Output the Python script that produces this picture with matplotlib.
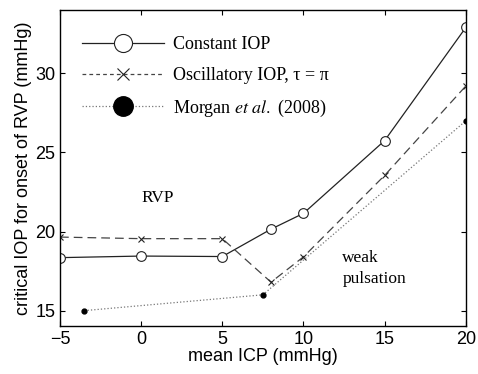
import numpy as np
import matplotlib
matplotlib.use("Agg")
import matplotlib.pyplot as plt
from matplotlib.lines import Line2D

# data
icp = [-5, 0, 5, 8, 10, 15, 20]
iop_const = [18.35, 18.45, 18.42, 20.15, 21.15, 25.75, 32.9]
iop_osc = [19.65, 19.55, 19.55, 16.8, 18.4, 23.55, 29.2]
morgan_icp = [-3.5, 7.5, 20]
morgan_iop = [15.0, 16.0, 27.0]

xticks = [-5, 0, 5, 10, 15, 20]
yticks = [15, 20, 25, 30]

serif = ["Liberation Serif", "DejaVu Serif"]
sans = ["Liberation Sans", "DejaVu Sans"]
plt.rcParams["font.family"] = sans
plt.rcParams["mathtext.fontset"] = "stix"

fig = plt.figure(figsize=(4.78, 3.74), dpi=100)
ax = fig.add_axes([0.1255, 0.128, 0.849, 0.845])

ax.plot(icp, iop_const, "-", color="#222222", lw=0.9, marker="o", ms=7,
        mfc="white", mec="#222222", mew=0.8)
ax.plot(icp, iop_osc, "--", color="#444444", lw=0.9, marker="x", ms=5,
        mec="#222222", mew=0.8, dashes=(7, 4))
ax.plot(morgan_icp, morgan_iop, ":", color="#777777", lw=0.9, marker="o",
        ms=3.5, mfc="black", mec="black")

ax.set_xlim(-5, 20)
ax.set_ylim(14.02, 34.0)
ax.set_xticks(xticks)
ax.set_yticks(yticks)
ax.set_xticklabels(["\u22125", "0", "5", "10", "15", "20"])
ax.tick_params(direction="in", top=True, right=True, length=3.8, width=0.8,
               labelsize=13)
for s in ax.spines.values():
    s.set_linewidth(1.0)
ax.set_xlabel("mean ICP (mmHg)", fontsize=13, labelpad=0)
ax.set_ylabel("critical IOP for onset of RVP (mmHg)", fontsize=13, labelpad=2)

ax.text(0.0, 22.1, "RVP", family=serif, fontsize=12.5, va="center")
ax.text(12.4, 18.3, "weak", family=serif, fontsize=12.5, va="center")
ax.text(12.4, 17.0, "pulsation", family=serif, fontsize=12.5, va="center")

handles = [
    Line2D([], [], ls="-", color="#222222", lw=0.9, marker="o", ms=13,
           mfc="white", mec="#222222", mew=0.8),
    Line2D([], [], ls="--", color="#444444", lw=0.9, marker="x", ms=9,
           mec="#222222", mew=0.8, dashes=(3, 2.5)),
    Line2D([], [], ls=":", color="#777777", lw=0.9, marker="o", ms=14,
           mfc="black", mec="black"),
]
labels = ["Constant IOP", "Oscillatory IOP, \u03c4 = \u03c0",
          r"Morgan $\it{et\ al.}$ (2008)"]
ax.legend(handles, labels, loc="upper left", frameon=False,
          prop={"family": serif, "size": 13}, handlelength=4.55,
          handletextpad=0.45, labelspacing=0.76, borderpad=0.4,
          borderaxespad=0.0, bbox_to_anchor=(0.037, 0.94))

fig.savefig("out.png", dpi=100)
